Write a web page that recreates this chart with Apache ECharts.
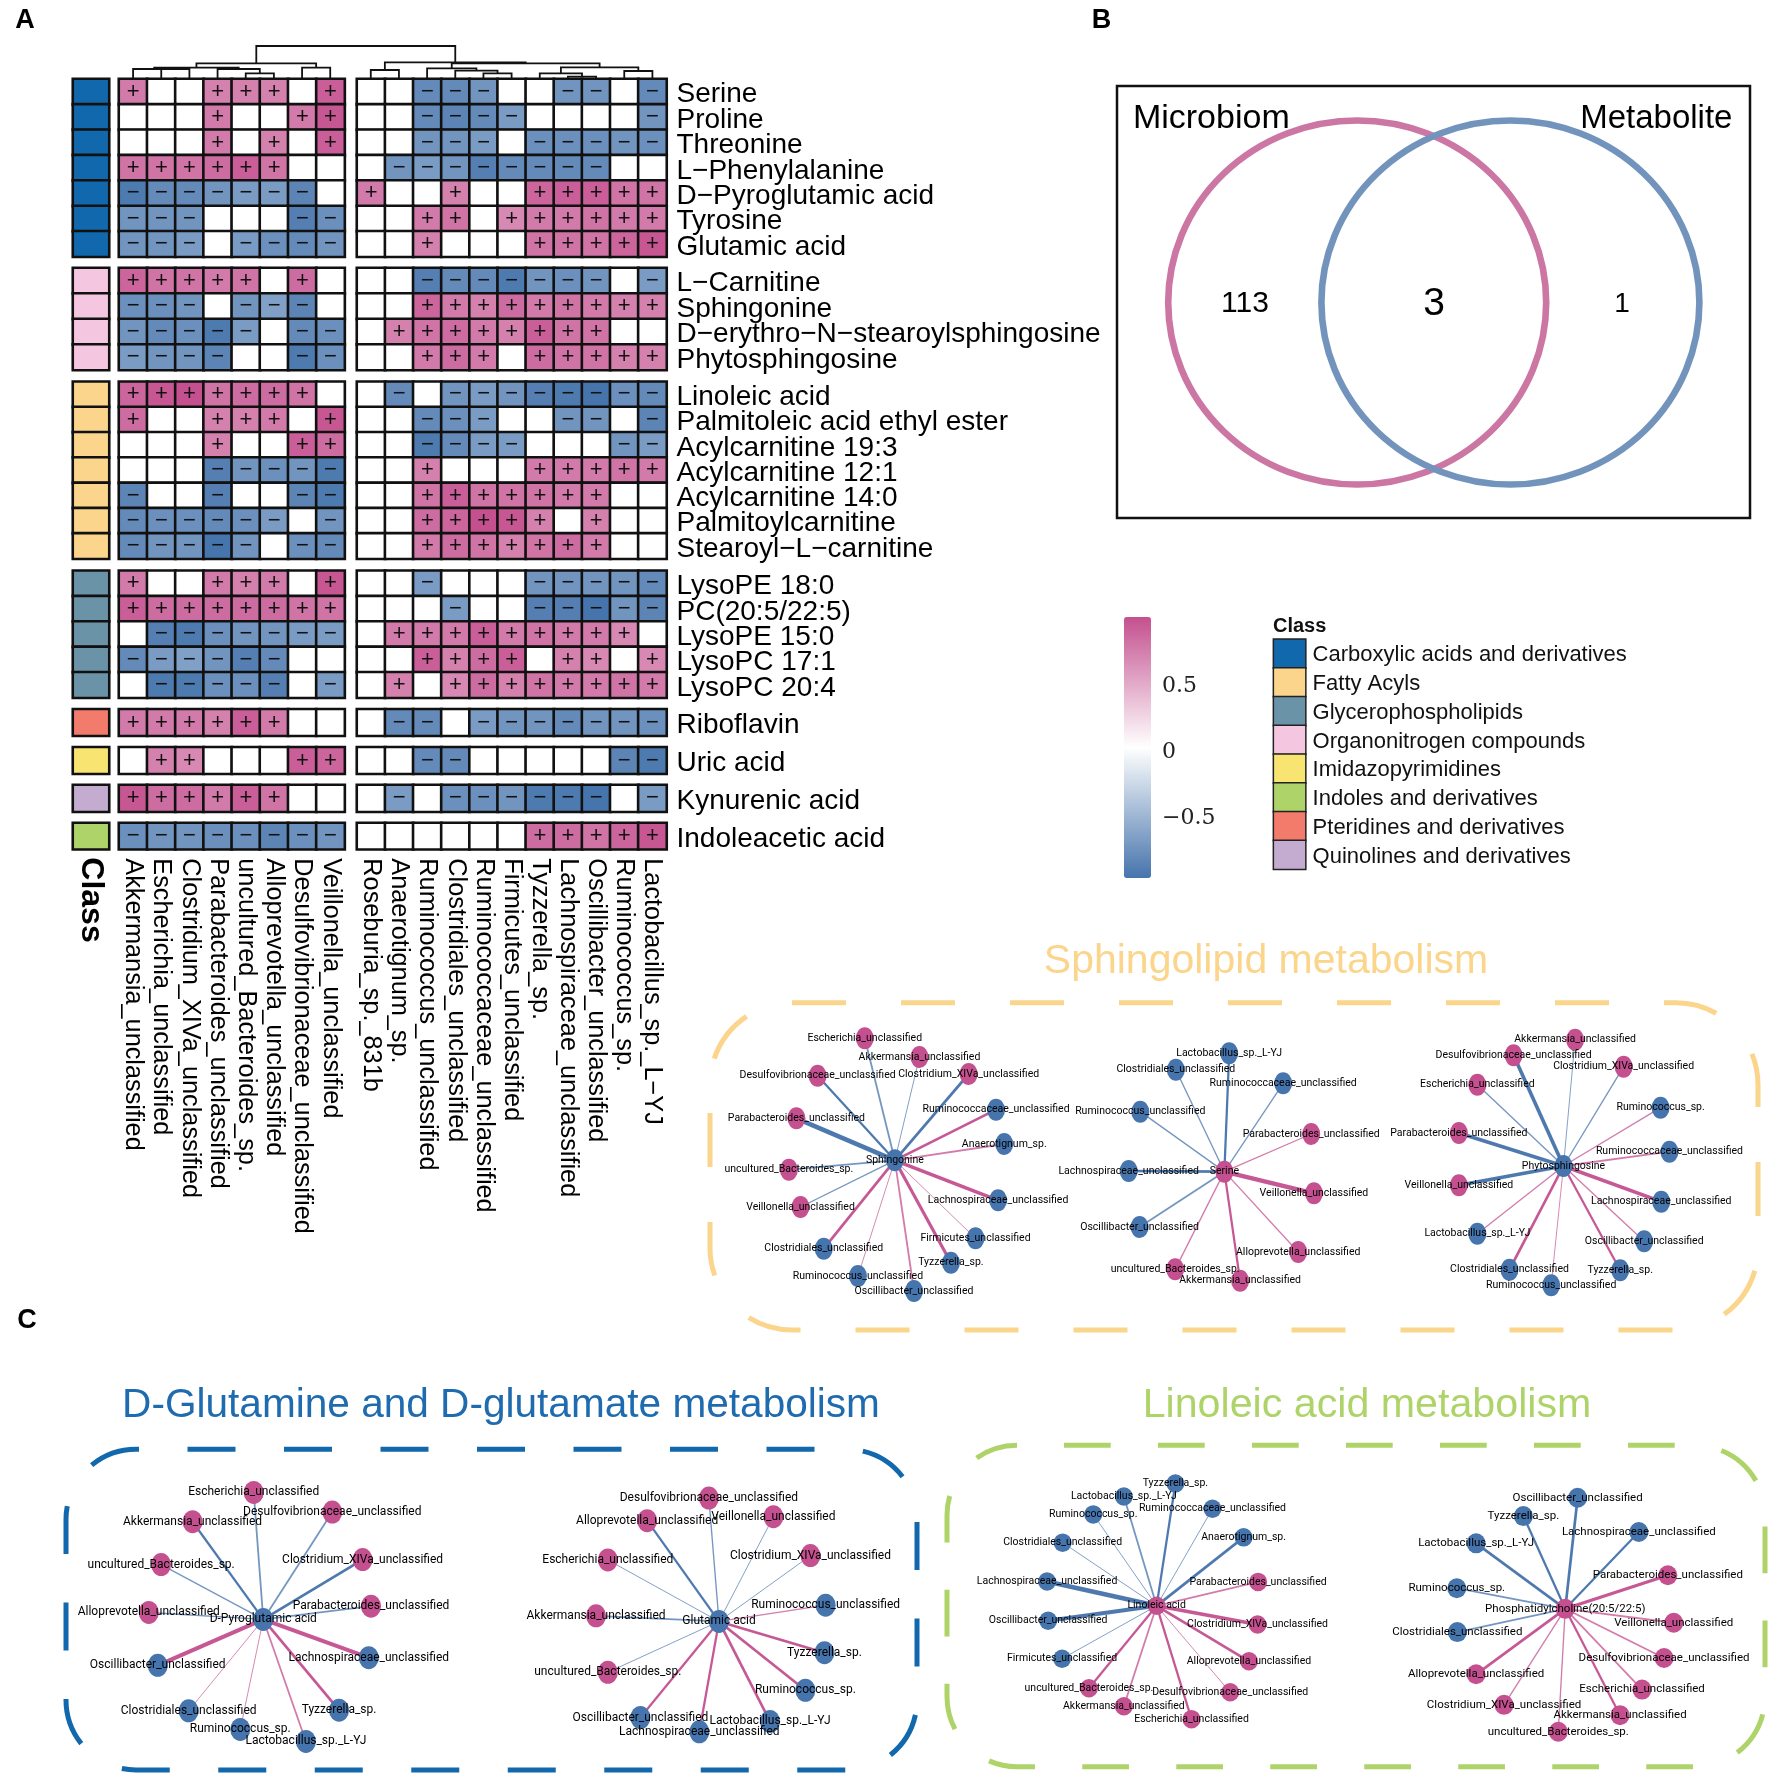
<!DOCTYPE html>
<html><head><meta charset="utf-8">
<style>html,body{margin:0;padding:0;background:#fff}#c{width:1772px;height:1777px}</style>
<script src="https://cdn.jsdelivr.net/npm/echarts@6/dist/echarts.min.js"></script>
</head><body><div id="c"></div>
<script>
const leftCols=['Akkermansia_unclassified','Escherichia_unclassified','Clostridium_XIVa_unclassified','Parabacteroides_unclassified','uncultured_Bacteroides_sp.','Alloprevotella_unclassified','Desulfovibrionaceae_unclassified','Veillonella_unclassified'];
const rightCols=['Roseburia_sp._831b','Anaerotignum_sp.','Ruminococcus_unclassified','Clostridiales_unclassified','Ruminococcaceae_unclassified','Firmicutes_unclassified','Tyzzerella_sp.','Lachnospiraceae_unclassified','Oscillibacter_unclassified','Ruminococcus_sp.','Lactobacillus_sp._L\u2212YJ'];
const classNames=['Carboxylic acids and derivatives','Fatty Acyls','Glycerophospholipids','Organonitrogen compounds','Imidazopyrimidines','Indoles and derivatives','Pteridines and derivatives','Quinolines and derivatives'];
const classColors=['#1268AC','#FAD58B','#6B93A8','#F4C6DF','#F8E571','#AED469','#F27B6C','#C4ABD0'];
const rowGroupClass=[0,3,1,2,6,4,7,5];
const rowGroups=[
['Serine','Proline','Threonine','L\u2212Phenylalanine','D\u2212Pyroglutamic acid','Tyrosine','Glutamic acid'],
['L\u2212Carnitine','Sphingonine','D\u2212erythro\u2212N\u2212stearoylsphingosine','Phytosphingosine'],
['Linoleic acid','Palmitoleic acid ethyl ester','Acylcarnitine 19:3','Acylcarnitine 12:1','Acylcarnitine 14:0','Palmitoylcarnitine','Stearoyl\u2212L\u2212carnitine'],
['LysoPE 18:0','PC(20:5/22:5)','LysoPE 15:0','LysoPC 17:1','LysoPC 20:4'],
['Riboflavin'],['Uric acid'],['Kynurenic acid'],['Indoleacetic acid']];
const leftValues=[
[[.76,0,0,.72,.72,.72,0,.92],[0,0,0,.76,0,0,.76,.96],[0,0,0,.76,0,.72,0,.92],[.8,.8,.8,.84,.92,.8,0,0],[-.96,-.84,-.84,-.76,-.72,-.72,-.88,0],[-.76,-.76,-.76,0,0,0,-.92,-.8],[-.76,-.76,-.72,0,-.72,-.8,-.84,-.76]],
[[.88,.8,.8,.76,.8,0,.84,0],[-.8,-.8,-.76,0,-.76,-.68,-.88,0],[-.76,-.84,-.8,-.96,-.72,0,-.84,-.8],[-.72,-.76,-.76,-.88,0,0,-.96,-.8]],
[[.88,.96,1,.8,.84,.84,.8,0],[.84,0,0,.72,.72,.76,0,.96],[0,0,0,.72,0,0,.92,.84],[0,0,0,-.92,-.76,-.8,-.76,-.96],[-.88,0,0,-.92,0,0,-.88,-.96],[-.84,-.8,-.8,-.84,-.8,-.72,0,-.76],[-.84,-.76,-.76,-1,-.76,0,-.8,-.84]],
[[.76,0,0,.76,.72,.76,0,.96],[.92,.84,.84,.84,.84,.84,.8,.8],[0,-.92,-.96,-.8,-.76,-.76,-.72,-.72],[-.84,-.72,-.68,-.76,-.92,-.84,0,0],[0,-.96,-.96,-.8,-.8,-.92,0,-.72]],
[[.76,.76,.76,.72,.92,.76,0,0]],[[0,.72,.68,0,0,0,.92,.88]],[[.96,.84,.84,.76,.92,.8,0,0]],[[-.8,-.76,-.76,-.8,-.8,-.88,-.8,-.76]]];
const rightValues=[
[[0,0,-.84,-.84,-.76,0,0,-.76,-.76,0,-.84],[0,0,-.84,-.88,-.84,-.72,0,0,0,0,-.76],[0,0,-.76,-.76,-.72,0,-.8,-.8,-.8,-.76,-.8],[0,-.76,-.72,-.76,-.92,-.84,-.84,-.84,-.84,0,0],[.76,0,0,.72,0,0,.88,.92,.92,.8,.8],[0,0,.76,.8,0,.68,.76,.76,.8,.76,.76],[0,0,.72,0,0,0,.8,.8,.8,.88,.96]],
[[0,0,-.92,-.84,-.84,-.96,-.76,-.8,-.76,0,-.72],[0,0,.88,.76,.72,.84,.76,.8,.76,.72,.72],[0,.72,.8,.84,.76,.72,.92,.8,.8,0,0],[0,0,.76,.84,.76,0,.84,.8,.8,.72,.72]],
[[0,-.84,0,-.76,-.72,-.76,-.92,-.96,-1,-.8,-.84],[0,0,-.84,-.8,-.72,0,0,-.76,-.76,0,-.88],[0,0,-.96,-.84,-.72,-.72,0,0,0,-.76,-.72],[0,0,.72,0,0,0,.76,.76,.76,.8,.76],[0,0,.8,.92,.8,.8,.8,.76,.76,0,0],[0,0,.84,.88,1,.96,.72,0,.72,0,0],[0,0,.76,.84,.8,.72,.8,.84,.76,0,0]],
[[0,0,-.72,0,0,0,-.76,-.76,-.76,-.76,-.84],[0,0,0,-.72,0,0,-.92,-.92,-1,-.76,-.88],[0,.76,.76,.76,.92,.76,.8,.76,.76,.68,0],[0,0,.92,.72,.84,.92,0,.72,.68,0,.68],[0,.72,0,.68,.84,.72,.8,.76,.76,.8,.76]],
[[0,-.84,-.84,0,-.72,-.76,-.76,-.84,-.76,-.76,-.8]],[[0,0,-.84,-.84,0,0,0,0,0,-.88,-.96]],[[0,-.72,0,-.8,-.8,-.76,-.96,-.96,-1,0,-.72]],[[0,0,0,0,0,0,.84,.84,.8,.88,.96]]];
// dendrogram merges: [name, childA, childB, height]; numeric child = leaf column index
const dendroMerges=[['n1',1,2,10],['n2',0,'n1',10],['n3',4,5,5.7],['n4',3,'n3',10],['n5','n2','n4',11.3],['n6',6,7,11.3],['n7','n5','n6',15.7],
['m1',8,9,9],['m2',12,13,5.7],['m3',11,'m2',8.3],['m4',10,'m3',10.7],['m5',15,16,2.3],['m6',14,'m5',5.7],['m7',17,18,8],['m8','m6','m7',11.7],['m9','m4','m8',15.7],['m10','m1','m9',16.7],['root','n7','m10',33]];
const vennCounts=[['Microbiom only','113'],['Shared','3'],['Metabolite only','1']];
const colorbarTicks=[-0.5,0,0.5];
// networks: hub [name,x,y,kind]; leaves [name,x,y,kind,edge] edge sign: + pink / - blue, magnitude: strength
const netSphingonine={hub:['Sphingonine',285,598,'b'],leaves:[['Escherichia_unclassified',241,232,'p',-2],['Akkermansia_unclassified',321,288,'p',-1],['Desulfovibrionaceae_unclassified',172,344,'p',-2.5],['Clostridium_XIVa_unclassified',393,339,'p',-3],['Ruminococcaceae_unclassified',433,446,'b',3],['Parabacteroides_unclassified',141,472,'p',-5],['Anaerotignum_sp.',445,549,'b',2],['uncultured_Bacteroides_sp.',130,626,'p',-2],['Lachnospiraceae_unclassified',436,718,'b',4],['Veillonella_unclassified',147,738,'p',-1.5],['Firmicutes_unclassified',403,832,'b',1],['Clostridiales_unclassified',181,863,'b',3],['Tyzzerella_sp.',367,905,'b',3.5],['Ruminococcus_unclassified',231,945,'b',1],['Oscillibacter_unclassified',313,990,'b',2]]};
const netSerine={hub:['Serine',767,632,'p'],leaves:[['Lactobacillus_sp._L-YJ',774,277,'b',-2.5],['Clostridiales_unclassified',696,326,'b',-1.5],['Ruminococcaceae_unclassified',853,367,'b',-1.5],['Ruminococcus_unclassified',644,452,'b',-1.5],['Parabacteroides_unclassified',894,519,'p',1.5],['Lachnospiraceae_unclassified',627,630,'b',-3],['Veillonella_unclassified',898,697,'p',5],['Oscillibacter_unclassified',643,798,'b',-2],['Alloprevotella_unclassified',875,873,'p',1.5],['uncultured_Bacteroides_sp.',695,925,'p',1.5],['Akkermansia_unclassified',790,959,'p',2.5]]};
const netPhyto={hub:['Phytosphingosine',1263,615,'b'],leaves:[['Akkermansia_unclassified',1280,236,'p',-1],['Desulfovibrionaceae_unclassified',1190,283,'p',-4],['Clostridium_XIVa_unclassified',1351,317,'p',-1.5],['Escherichia_unclassified',1137,371,'p',-1.5],['Ruminococcus_sp.',1405,440,'b',1.5],['Parabacteroides_unclassified',1110,516,'p',-4],['Ruminococcaceae_unclassified',1418,572,'b',2],['Veillonella_unclassified',1110,673,'p',-4],['Lachnospiraceae_unclassified',1406,722,'b',4],['Lactobacillus_sp._L-YJ',1137,818,'b',1.5],['Oscillibacter_unclassified',1381,841,'b',1.5],['Clostridiales_unclassified',1184,926,'b',3],['Tyzzerella_sp.',1346,928,'b',2.5],['Ruminococcus_unclassified',1245,973,'b',1]]};
const netPyro={hub:['D-Pyroglutamic acid',380,597,'b'],leaves:[['Escherichia_unclassified',363,215,'p',-2],['Desulfovibrionaceae_unclassified',503,274,'p',-2],['Akkermansia_unclassified',254,303,'p',-2.5],['Clostridium_XIVa_unclassified',557,417,'p',-3],['uncultured_Bacteroides_sp.',198,432,'p',-1.5],['Parabacteroides_unclassified',572,557,'p',-2],['Alloprevotella_unclassified',176,576,'p',-1.5],['Lachnospiraceae_unclassified',568,712,'b',4.5],['Oscillibacter_unclassified',192,735,'b',4.5],['Clostridiales_unclassified',247,872,'b',1],['Tyzzerella_sp.',515,870,'b',3],['Ruminococcus_sp.',339,928,'b',1],['Lactobacillus_sp._L-YJ',456,964,'b',2]]};
const netGlutamic={hub:['Glutamic acid',1192,603,'b'],leaves:[['Desulfovibrionaceae_unclassified',1174,232,'p',-1.5],['Alloprevotella_unclassified',1064,300,'p',-2.5],['Veillonella_unclassified',1289,288,'p',-1],['Clostridium_XIVa_unclassified',1355,405,'p',-1],['Escherichia_unclassified',994,418,'p',-1],['Ruminococcus_unclassified',1382,554,'b',1.5],['Akkermansia_unclassified',973,586,'p',-2],['Tyzzerella_sp.',1380,697,'b',3],['uncultured_Bacteroides_sp.',994,756,'p',-1],['Ruminococcus_sp.',1346,810,'b',3],['Oscillibacter_unclassified',1052,892,'b',2.5],['Lactobacillus_sp._L-YJ',1283,904,'b',3],['Lachnospiraceae_unclassified',1157,935,'b',2.5]]};
const netLinoleic={hub:['Linoleic acid',422,556,'p'],leaves:[['Tyzzerella_sp.',457,188,'b',-2.5],['Lactobacillus_sp._L-YJ',361,227,'b',-2],['Ruminococcaceae_unclassified',526,264,'b',-1],['Ruminococcus_sp.',304,281,'b',-1],['Anaerotignum_sp.',584,350,'b',-3],['Clostridiales_unclassified',247,366,'b',-1],['Lachnospiraceae_unclassified',218,483,'b',-5],['Parabacteroides_unclassified',611,484,'p',2],['Oscillibacter_unclassified',220,601,'b',-4.5],['Clostridium_XIVa_unclassified',610,612,'p',4],['Firmicutes_unclassified',246,715,'b',-1],['Alloprevotella_unclassified',594,723,'p',3],['uncultured_Bacteroides_sp.',296,804,'p',2.5],['Desulfovibrionaceae_unclassified',559,816,'p',1],['Akkermansia_unclassified',361,858,'p',2],['Escherichia_unclassified',487,897,'p',2.5]]};
const netPhospho={hub:['Phosphatidylcholine(20:5/22:5)',1183,565,'p'],leaves:[['Oscillibacter_unclassified',1206,231,'b',-3],['Tyzzerella_sp.',1105,286,'b',-2.5],['Lachnospiraceae_unclassified',1320,334,'b',-2.5],['Lactobacillus_sp._L-YJ',1017,368,'b',-3],['Parabacteroides_unclassified',1374,464,'p',3.5],['Ruminococcus_sp.',981,503,'b',-2],['Veillonella_unclassified',1385,607,'p',2],['Clostridiales_unclassified',982,635,'b',-2],['Desulfovibrionaceae_unclassified',1367,713,'p',2],['Alloprevotella_unclassified',1017,762,'p',3],['Escherichia_unclassified',1326,808,'p',2],['Clostridium_XIVa_unclassified',1069,854,'p',1.5],['Akkermansia_unclassified',1285,885,'p',2.5],['uncultured_Bacteroides_sp.',1170,935,'p',1.5]]};

// ---------- layout ----------
const SANS='"Liberation Sans",Arial,sans-serif', NARROW='Roboto,"Liberation Sans",sans-serif';
const groupBox=[[79,177.7],[268,102],[381.7,177],[570.7,127],[709.3,26.4],[747.3,26.4],[785,26.7],[823,26.3]];
const colBox={ann:[73,36],left:[119,225.6],right:[357,309.5]};
const PINK='#C4508F',BLUE='#4674AC';
const grid=[],xAxis=[],yAxis=[],series=[];
const hiddenAxis=(o)=>Object.assign({show:false},o);
function addGrid(l,t,w,h,xa,ya){grid.push({left:l,top:t,width:w,height:h,containLabel:false,show:false});xa.gridIndex=ya.gridIndex=grid.length-1;xAxis.push(xa);yAxis.push(ya);return grid.length-1;}
const catAxis=(data,extra)=>Object.assign({type:'category',data,axisLine:{show:false},axisTick:{show:false},splitLine:{show:false},splitArea:{show:false},axisLabel:{show:false}},extra||{});
const heatStyle={borderColor:'#111',borderWidth:2.6};
const valueSeries=[];
rowGroups.forEach((rows,g)=>{
  const [top,h]=groupBox[g], last=g===rowGroups.length-1;
  const a=addGrid(colBox.ann[0],top,colBox.ann[1],h,
    catAxis(['Class'],last?{axisLabel:{show:true,rotate:-90,interval:0,margin:8,fontFamily:SANS,fontWeight:'bold',fontSize:32,color:'#000'}}:{}),
    catAxis(rows,{inverse:true}));
  series.push({type:'heatmap',xAxisIndex:a,yAxisIndex:a,silent:true,
    data:rows.map((r,i)=>({value:[0,i,0],itemStyle:{color:classColors[rowGroupClass[g]]}})),itemStyle:heatStyle});
  [[leftCols,leftValues[g],colBox.left,false],[rightCols,rightValues[g],colBox.right,true]].forEach(([cols,vals,box,isRight])=>{
    const i=addGrid(box[0],top,box[1],h,
      catAxis(cols,last?{axisLabel:{show:true,rotate:-90,interval:0,margin:9,fontFamily:SANS,fontSize:25.3,color:'#000'}}:{}),
      catAxis(rows,Object.assign({inverse:true},isRight?{position:'right',axisLabel:{show:true,interval:0,margin:10,verticalAlign:'top',lineHeight:6,fontFamily:SANS,fontSize:28,color:'#000'}}:{})));
    const data=[];vals.forEach((row,y)=>row.forEach((v,x)=>data.push([x,y,v])));
    valueSeries.push(series.length);
    series.push({type:'heatmap',xAxisIndex:i,yAxisIndex:i,silent:true,data,itemStyle:heatStyle,
      label:{show:true,fontFamily:SANS,fontSize:22,color:'#111',formatter:p=>p.value[2]>0?'+':p.value[2]<0?'\u2212':''}});
  });
});
// dendrogram
const dg=addGrid(119,40,547.5,39,hiddenAxis({type:'value',min:0,max:19.44}),hiddenAxis({type:'value',min:0,max:39}));
const leafX=k=>k<8?k+0.5:k+0.94,nodes={};
const pos=c=>typeof c==='number'?[leafX(c),0]:nodes[c];
const dendroData=dendroMerges.map(([n,a,b,h])=>{const A=pos(a),B=pos(b);nodes[n]=[(A[0]+B[0])/2,h];return [A[0],A[1],B[0],B[1],h];});
series.push({type:'custom',xAxisIndex:dg,yAxisIndex:dg,silent:true,data:dendroData,
  renderItem:(p,api)=>{const v=i=>api.value(i);
    const pts=[[v(0),v(1)],[v(0),v(4)],[v(2),v(4)],[v(2),v(3)]].map(q=>api.coord(q));
    return {type:'polyline',shape:{points:pts},style:{fill:'none',stroke:'#111',lineWidth:1.8}};}});
// Venn
const vg=addGrid(1117,86,633,432,hiddenAxis({type:'value',min:0,max:633}),hiddenAxis({type:'value',min:0,max:432,inverse:true}));
grid[vg].show=true;grid[vg].borderColor='#111';grid[vg].borderWidth=2.5;grid[vg].backgroundColor='transparent';
[['Microbiom',240.2,'#CC76A3'],['Metabolite',393.4,'#7294BC']].forEach(([n,x,c])=>{
  series.push({type:'scatter',name:n,xAxisIndex:vg,yAxisIndex:vg,silent:true,symbol:'circle',symbolSize:[378,364],
    data:[[x,216.5]],itemStyle:{color:'rgba(0,0,0,0)',borderColor:c,borderWidth:6.5,opacity:1}});
});
series.push({type:'scatter',xAxisIndex:vg,yAxisIndex:vg,silent:true,symbolSize:1,itemStyle:{color:'rgba(0,0,0,0)',opacity:1},
  data:[{value:[128,218],name:vennCounts[0][1],size:30},{value:[317,218],name:vennCounts[1][1],size:39},{value:[505,218],name:vennCounts[2][1],size:28},
        {value:[94.3,33],name:'Microbiom',size:34},{value:[539.3,33],name:'Metabolite',size:33}].map(d=>({value:d.value,name:d.name,
        label:{show:true,position:'inside',formatter:d.name,fontFamily:SANS,fontSize:d.size,color:'#000',opacity:1}}))});
// class legend (one-column heatmap)
const lg=addGrid(1273.6,639.3,32,230,catAxis(['Class']),catAxis(classNames,{inverse:true,position:'right',axisLabel:{show:true,interval:0,margin:7,verticalAlign:'top',lineHeight:3.4,fontFamily:SANS,fontSize:22,color:'#111'}}));
series.push({type:'heatmap',xAxisIndex:lg,yAxisIndex:lg,silent:true,itemStyle:{borderColor:'#222',borderWidth:1.5},
  data:classNames.map((c,i)=>({value:[0,i,0],itemStyle:{color:classColors[i]}}))});
// colour bar ticks
const cb=addGrid(1124,620,27,264,hiddenAxis({type:'value'}),{type:'value',min:-1,max:1,position:'right',splitLine:{show:false},axisLine:{show:false},axisTick:{show:false},
  axisLabel:{margin:11,customValues:colorbarTicks,fontFamily:'"DejaVu Serif",serif',fontSize:22,color:'#222',formatter:v=>v<0?'\u2212'+Math.abs(v):String(v)}});
// networks
function addNet(net,gi,fs,sz){
  const mk=(n,kind,extra)=>Object.assign({name:n[0],value:[n[1],n[2]],itemStyle:{color:kind==='b'?BLUE:PINK}},extra||{});
  const data=[mk(net.hub,net.hub[3])].concat(net.leaves.map(l=>mk(l,l[3])));
  const links=net.leaves.map((l,i)=>{const w=Math.abs(l[4]);return {source:0,target:i+1,
    lineStyle:{color:l[4]<0?'#3F6EA8':'#C04A8C',width:w*0.9,opacity:w<=2?0.72:0.92,curveness:0}};});
  series.push({type:'graph',coordinateSystem:'cartesian2d',xAxisIndex:gi,yAxisIndex:gi,silent:true,symbol:'circle',symbolSize:sz,
    data,links,label:{show:true,position:'inside',fontFamily:NARROW,fontSize:fs,color:'#000',formatter:'{b}'}});
}
const ng1=addGrid(700,961,1072,400,hiddenAxis({type:'value',min:0,max:1568}),hiddenAxis({type:'value',min:0,max:1200,inverse:true}));
const ng2=addGrid(50,1421,880,357,hiddenAxis({type:'value',min:0,max:1568}),hiddenAxis({type:'value',min:0,max:1071,inverse:true}));
const ng3=addGrid(930,1421,842,357,hiddenAxis({type:'value',min:0,max:1568}),hiddenAxis({type:'value',min:0,max:1071,inverse:true}));
addNet(netSphingonine,ng1,10.5,[18,22]);addNet(netSerine,ng1,10.5,[18,22]);addNet(netPhyto,ng1,10.5,[18,22]);
addNet(netPyro,ng2,12,[20,23]);addNet(netGlutamic,ng2,12,[20,23]);
addNet(netLinoleic,ng3,10.5,[18,18.5]);addNet(netPhospho,ng3,11.5,[19,20]);

const txt=(t,x,y,size,color,weight,align)=>({type:'text',x,y,silent:true,style:{text:t,fontFamily:SANS,fontSize:size,fontWeight:weight||'normal',fill:color||'#000',textAlign:align||'center',textVerticalAlign:'middle'}});
const dashRect=(x,y,w,h,r,color,dash,off)=>({type:'rect',silent:true,shape:{x,y,width:w,height:h,r},style:{fill:'none',stroke:color,lineWidth:5,lineDash:dash,lineDashOffset:off}});
const option={animation:false,backgroundColor:'#fff',grid,xAxis,yAxis,series,
  visualMap:[{type:'continuous',seriesIndex:valueSeries,dimension:2,min:-1,max:1,calculable:false,hoverLink:false,show:true,left:1124,top:617,padding:0,itemWidth:27,itemHeight:261,text:['',''],showLabel:false,
    inRange:{color:[BLUE,'#ffffff',PINK]}}],
  graphic:{elements:[
    txt('A',25,21,27,'#000','bold'),txt('B',1101.5,21,27,'#000','bold'),txt('C',27,1320.5,27,'#000','bold'),
    txt('Class',1273,626,20,'#111','bold','left'),
    txt('Sphingolipid metabolism',1266,961.5,41,'#FAD58B'),
    txt('D-Glutamine and D-glutamate metabolism',501,1405.5,40.6,'#1F6BAF'),
    txt('Linoleic acid metabolism',1367,1405.5,41.2,'#AED469'),
    dashRect(710,1002.7,1048,327.3,82,'#FAD58B',[54,55],0),
    dashRect(66,1449.3,851,320.7,70,'#1268AC',[48,48.5],45),
    dashRect(947,1445.3,818,321.4,70,'#AED469',[46.7,47.3],47)
  ]}};
const chart=echarts.init(document.getElementById('c'),null,{renderer:'canvas',width:1772,height:1777});
chart.setOption(option);
</script></body></html>
